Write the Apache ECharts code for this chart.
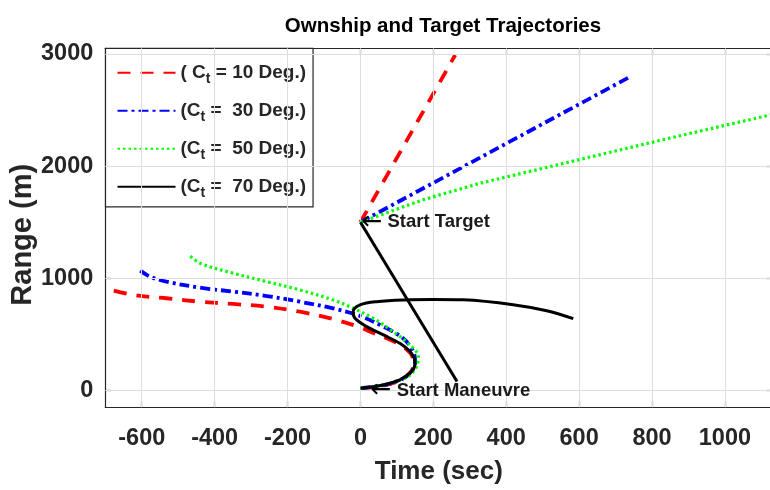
<!DOCTYPE html>
<html>
<head>
<meta charset="utf-8">
<script src="https://cdn.jsdelivr.net/npm/echarts@6/dist/echarts.min.js"></script>
<style>
  html, body { margin: 0; padding: 0; background: #fff; }
  #chart { width: 770px; height: 490px; }
</style>
</head>
<body>
<div id="chart"></div>
<script>
// Axis ticks
const timeTicks = [-600, -400, -200, 0, 200, 400, 600, 800, 1000];
const rangeTicks = [0, 1000, 2000, 3000];

// Legend names (the "_t" part is drawn as a subscript)
const names = ['( C_t = 10 Deg.)', '(C_t =  30 Deg.)', '(C_t =  50 Deg.)', '(C_t =  70 Deg.)'];

// Target tracks [time (sec), range (m)]
const target10 = [[0, 1500], [260, 2990]];
const target30 = [[0, 1500], [742, 2800]];
const target50 = [[0, 1500], [172, 1700], [328, 1847], [849, 2250], [1130, 2460]];
const target70 = [[0, 1500], [265, 80]];

// Ownship tracks [time (sec), range (m)]
const own10 = [[0, 20], [60, 42], [108, 90], [138, 165], [146, 245], [138, 328], [110, 405], [72, 465],
  [30, 520], [-1, 563], [-75, 637], [-166, 702], [-257, 747], [-349, 771], [-440, 791], [-532, 822],
  [-623, 851], [-700, 911]];
const own30 = [[0, 20], [62, 47], [110, 95], [140, 168], [150, 257], [145, 346], [117, 465], [63, 569],
  [-1, 664], [-75, 732], [-166, 791], [-257, 842], [-349, 881], [-440, 916], [-532, 970], [-577, 1014],
  [-604, 1068]];
const own50 = [[0, 20], [65, 50], [115, 100], [136, 138], [154, 212], [159, 301], [136, 405], [90, 524],
  [35, 643], [-20, 733], [-75, 807], [-166, 896], [-257, 970], [-349, 1045], [-440, 1134], [-467, 1199]];
const own70 = [[0, 20], [63, 49], [108, 94], [140, 168], [150, 242], [140, 331], [108, 420], [63, 495],
  [17, 569], [-15, 643], [-20, 702], [-1, 762], [44, 791], [136, 808], [200, 812], [282, 808],
  [419, 765], [511, 711], [584, 640]];

// Annotation anchors
const startTarget = [0, 1500];
const startManeuvre = [25, 0];

const FONT = "'Liberation Sans', Arial, sans-serif";
const INK = '#262626';

const styles = [
  { color: '#ff0000', type: [13, 10], width: 3.8 },
  { color: '#0000ff', type: [10, 4, 3, 4], width: 3.8 },
  { color: '#00ff00', type: [2.5, 3], width: 3.2 },
  { color: '#000000', type: 'solid', width: 3 }
];
const targets = [target10, target30, target50, target70];
const owns = [own10, own30, own50, own70];

const series = [];
// Grid lines
series.push({
  type: 'line', name: 'grid', data: [], silent: true, z: 1,
  markLine: {
    silent: true, symbol: 'none', animation: false,
    label: { show: false },
    lineStyle: { color: '#dedede', width: 1, type: 'solid' },
    data: timeTicks.map(v => ({ xAxis: v })).concat(rangeTicks.map(v => ({ yAxis: v })))
  }
});
for (let i = 0; i < 4; i++) {
  const common = {
    type: 'line', name: names[i], symbol: 'none', showSymbol: false, animation: false,
    lineStyle: { color: styles[i].color, type: styles[i].type, width: styles[i].width },
    itemStyle: { color: styles[i].color }, z: 3 + i
  };
  series.push(Object.assign({}, common, { data: owns[i], smooth: 0.35 }));
  series.push(Object.assign({}, common, { data: targets[i] }));
}
// Text annotations
const annLabel = (txt) => ({
  show: true, position: 'right', distance: 1,
  formatter: '{a|\u2190}{t| ' + txt + '}',
  rich: {
    a: { fontFamily: "'DejaVu Sans', sans-serif", fontSize: 25, color: '#000' },
    t: { fontFamily: FONT, fontWeight: 'bold', fontSize: 18.5, color: '#1a1a1a' }
  }
});
series.push({
  type: 'scatter', name: 'notes', symbolSize: 0, silent: true, z: 10, animation: false,
  itemStyle: { opacity: 1 },
  data: [
    { value: startTarget, label: annLabel('Start Target') },
    { value: startManeuvre, label: annLabel('Start Maneuvre') }
  ]
});

const axisLineStyle = { color: INK, width: 1.2 };
const tickLabel = { fontFamily: FONT, fontWeight: 'bold', fontSize: 23.5, color: INK, formatter: v => String(v) };
const chart = echarts.init(document.getElementById('chart'), null, { renderer: 'canvas' });
chart.setOption({
  backgroundColor: '#ffffff',
  animation: false,
  title: {
    text: 'Ownship and Target Trajectories',
    left: 438, top: 11, textAlign: 'center',
    textStyle: { fontFamily: FONT, fontWeight: 'bold', fontSize: 20.5, color: '#000' }
  },
  grid: { left: 105.3, right: -2.3, top: 48.3, bottom: 82.7, outerBoundsMode: 'none', containLabel: false },
  legend: {
    data: names,
    orient: 'vertical', left: 105.5, top: 48.3,
    backgroundColor: '#ffffff', borderColor: INK, borderWidth: 1.2,
    padding: [15, 7, 7, 11], itemGap: 15.5, itemWidth: 58, itemHeight: 14,
    selectedMode: false,
    itemStyle: { opacity: 0 },
    formatter: (n) => {
      const p = n.split('_t');
      return '{b|' + p[0] + '}{s|t}{b|' + p[1] + '}';
    },
    textStyle: {
      rich: {
        b: { fontFamily: FONT, fontWeight: 'bold', fontSize: 19, color: INK, lineHeight: 26 },
        s: { fontFamily: FONT, fontWeight: 'bold', fontSize: 14, color: INK, lineHeight: 14, verticalAlign: 'bottom' }
      }
    }
  },
  xAxis: [{
    type: 'value', min: -700, max: 1130,
    name: 'Time (sec)', nameLocation: 'middle', nameGap: 52, nameMoveOverlap: false,
    nameTextStyle: { fontFamily: FONT, fontWeight: 'bold', fontSize: 26, color: INK },
    axisLine: { show: true, onZero: false, lineStyle: axisLineStyle },
    axisTick: { show: true, inside: true, length: 6, customValues: timeTicks, lineStyle: axisLineStyle },
    axisLabel: Object.assign({ show: true, customValues: timeTicks, margin: 19 }, tickLabel),
    splitLine: { show: false }
  }, {
    type: 'value', min: -700, max: 1130, position: 'top',
    axisLine: { show: true, onZero: false, lineStyle: axisLineStyle },
    axisTick: { show: true, inside: true, length: 6, customValues: timeTicks, lineStyle: axisLineStyle },
    axisLabel: { show: false },
    splitLine: { show: false }
  }],
  yAxis: [{
    type: 'value', min: -150, max: 3050,
    name: 'Range (m)', nameLocation: 'middle', nameGap: 68, nameRotate: 90, nameMoveOverlap: false,
    nameTextStyle: { fontFamily: FONT, fontWeight: 'bold', fontSize: 29, color: INK, padding: [0, 14, 0, 0] },
    axisLine: { show: true, onZero: false, lineStyle: axisLineStyle },
    axisTick: { show: true, inside: true, length: 6, customValues: rangeTicks, lineStyle: axisLineStyle },
    axisLabel: Object.assign({ show: true, customValues: rangeTicks, margin: 12 }, tickLabel),
    splitLine: { show: false }
  }, {
    type: 'value', min: -150, max: 3050, position: 'right',
    axisLine: { show: true, onZero: false, lineStyle: axisLineStyle },
    axisTick: { show: true, inside: true, length: 6, customValues: rangeTicks, lineStyle: axisLineStyle },
    axisLabel: { show: false },
    splitLine: { show: false }
  }],
  series: series
});
</script>
</body>
</html>
